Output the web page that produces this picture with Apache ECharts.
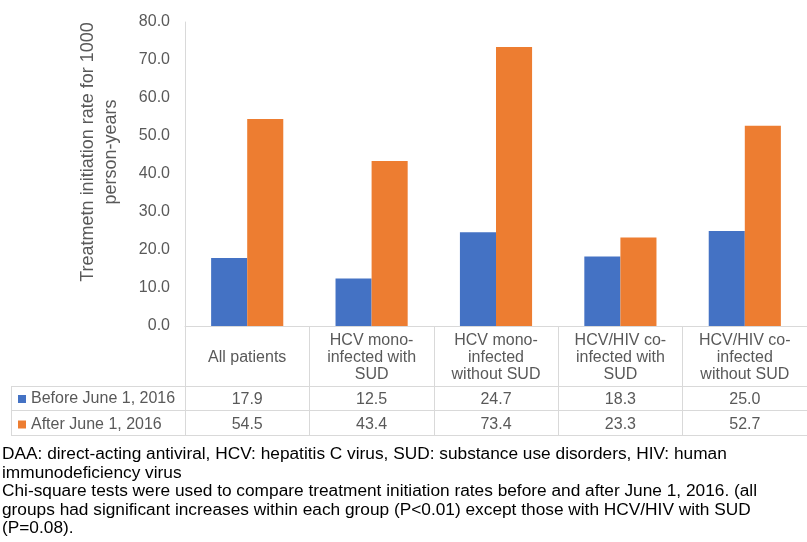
<!DOCTYPE html>
<html>
<head>
<meta charset="utf-8">
<script src="https://cdn.jsdelivr.net/npm/echarts@6/dist/echarts.min.js"></script>
<style>
  html, body { margin: 0; padding: 0; background: #fff; }
  #chart { width: 807px; height: 542px; }
</style>
</head>
<body>
<div id="chart"></div>
<script>
// data
var categoryLabels = ['All patients', 'HCV mono-\ninfected with\nSUD', 'HCV mono-\ninfected\nwithout SUD', 'HCV/HIV co-\ninfected with\nSUD', 'HCV/HIV co-\ninfected\nwithout SUD'];
var seriesNames = ['Before June 1, 2016', 'After June 1, 2016'];
var beforeVals = [17.9, 12.5, 24.7, 18.3, 25.0];
var afterVals = [54.5, 43.4, 73.4, 23.3, 52.7];
var yTicks = [0, 10, 20, 30, 40, 50, 60, 70, 80];

var footnote = 'DAA: direct-acting antiviral, HCV: hepatitis C virus, SUD: substance use disorders, HIV: human\n' +
    'immunodeficiency virus\n' +
    'Chi-square tests were used to compare treatment initiation rates before and after June 1, 2016. (all\n' +
    'groups had significant increases within each group (P<0.01) except those with HCV/HIV with SUD\n' +
    '(P=0.08).';

var font = 'Liberation Sans, Arial, sans-serif';
var grey = '#595959';
var lineCol = '#d9d9d9';

// the data table rows are extra category axes sitting under the plot
function rowAxis(vals, offset) {
    return {
        type: 'category',
        data: categoryLabels,
        position: 'bottom',
        offset: offset,
        axisLine: {show: false},
        axisTick: {show: false},
        axisLabel: {
            interval: 0,
            margin: 0,
            verticalAlign: 'middle',
            fontFamily: font,
            fontSize: 16,
            color: grey,
            formatter: function (v, i) { return vals[i].toFixed(1); }
        }
    };
}

function hline(y) {
    return {type: 'line', shape: {x1: 11, y1: y, x2: 807, y2: y}, style: {stroke: lineCol, lineWidth: 1}};
}

var chart = echarts.init(document.getElementById('chart'));
var option = {
    animation: false,
    textStyle: {fontFamily: font},
    grid: {left: 185, top: 22, width: 626, height: 304},
    legend: {
        data: seriesNames,
        orient: 'vertical',
        left: 13,
        top: 386,
        itemGap: 9.5,
        itemWidth: 8,
        itemHeight: 8,
        icon: 'rect',
        selectedMode: false,
        textStyle: {fontFamily: font, fontSize: 16, color: grey}
    },
    xAxis: [
        {
            type: 'category',
            data: categoryLabels,
            axisLine: {lineStyle: {color: lineCol}},
            axisTick: {show: true, length: 109, alignWithLabel: false, lineStyle: {color: lineCol}},
            axisLabel: {
                interval: 0,
                margin: 32,
                verticalAlign: 'middle',
                lineHeight: 17,
                fontFamily: font,
                fontSize: 16,
                color: grey
            }
        },
        rowAxis(beforeVals, 74),
        rowAxis(afterVals, 99)
    ],
    yAxis: {
        type: 'value',
        min: yTicks[0],
        max: yTicks[yTicks.length - 1],
        interval: 10,
        name: 'Treatmetn initiation rate for 1000\nperson-years',
        nameLocation: 'middle',
        nameGap: 62,
        nameTextStyle: {fontFamily: font, fontSize: 18, color: grey, lineHeight: 23, padding: [0, 0, 0, 44]},
        axisLine: {show: true, lineStyle: {color: lineCol}},
        axisTick: {show: false},
        splitLine: {show: false},
        axisLabel: {
            margin: 15,
            fontFamily: font,
            fontSize: 16,
            color: grey,
            formatter: function (v) { return v.toFixed(1); }
        }
    },
    series: [
        {
            name: seriesNames[0],
            type: 'bar',
            data: beforeVals,
            barGap: '0%',
            barCategoryGap: '42%',
            itemStyle: {color: '#4472C4'}
        },
        {
            name: seriesNames[1],
            type: 'bar',
            data: afterVals,
            barGap: '0%',
            barCategoryGap: '42%',
            itemStyle: {color: '#ED7D31'}
        }
    ],
    graphic: [
        hline(386.5),
        hline(410.5),
        hline(435.5),
        {type: 'line', shape: {x1: 11.5, y1: 386, x2: 11.5, y2: 436}, style: {stroke: lineCol, lineWidth: 1}},
        {
            type: 'text',
            left: 2,
            top: 445,
            style: {text: footnote, fontFamily: font, fontSize: 17.3, lineHeight: 18.5, fill: '#000'}
        }
    ]
};
chart.setOption(option);
window.addEventListener('resize', chart.resize);
</script>
</body>
</html>
